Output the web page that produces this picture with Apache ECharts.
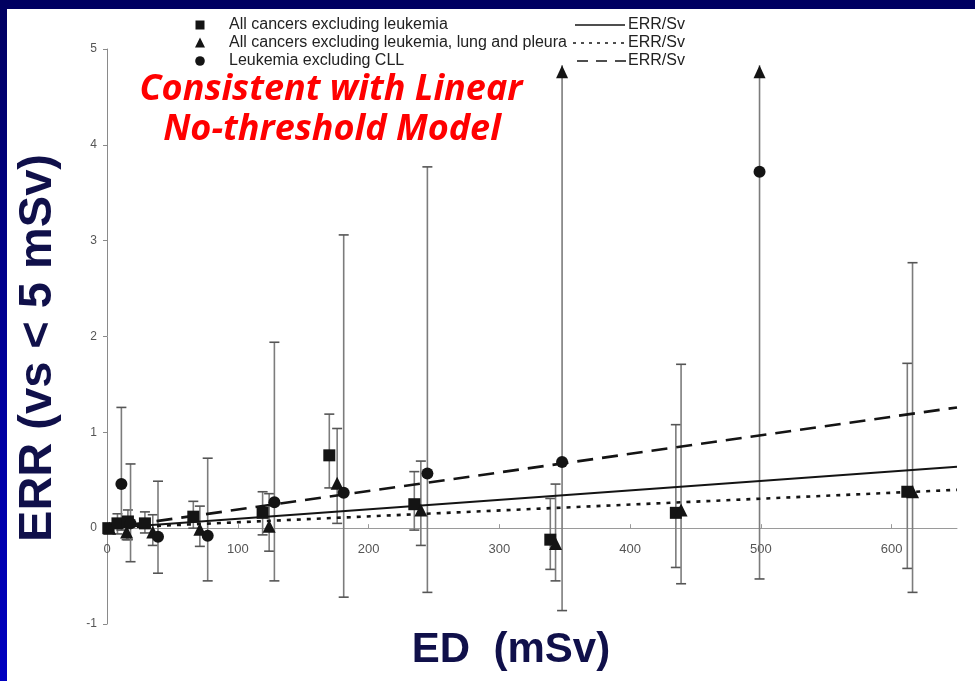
<!DOCTYPE html>
<html>
<head>
<meta charset="utf-8">
<script src="https://cdn.jsdelivr.net/npm/echarts@6/dist/echarts.min.js"></script>
<style>
  html, body { margin: 0; padding: 0; }
  body { width: 975px; height: 681px; position: relative; overflow: hidden;
         background: linear-gradient(to bottom, #000060 0%, #0000a0 60%, #0000c0 100%); }
  #paper { position: absolute; left: 7px; top: 9px; width: 968px; height: 672px; background: #ffffff; }
  #chart { position: absolute; left: 0; top: 0; width: 975px; height: 681px; }
</style>
</head>
<body>
<div id="paper"></div>
<div id="chart"></div>
<script>
// ---- data: [ED (mSv), ERR, lower CI, upper CI] ----
const squares = [          // All cancers excluding leukemia
  [1, 0.00, -0.01, 0.01],
  [8, 0.05, -0.06, 0.15],
  [16, 0.07, -0.12, 0.19],
  [29, 0.05, -0.05, 0.17],
  [66, 0.12, 0.00, 0.28],
  [119, 0.16, -0.07, 0.38],
  [170, 0.76, 0.42, 1.19],
  [235, 0.25, -0.02, 0.59],
  [339, -0.12, -0.43, 0.31],
  [435, 0.16, -0.41, 1.08],
  [612, 0.38, -0.42, 1.72]
];
const triangles = [        // All cancers excluding leukemia, lung and pleura
  [2, 0.00, -0.02, 0.02],
  [15, -0.04, -0.12, 0.03],
  [35, -0.04, -0.18, 0.14],
  [71, -0.01, -0.19, 0.23],
  [124, 0.02, -0.24, 0.36],
  [176, 0.47, 0.05, 1.04],
  [240, 0.19, -0.18, 0.70],
  [343, -0.16, -0.55, 0.46],
  [439, 0.19, -0.58, 1.71],
  [616, 0.38, -0.67, 2.77]
];
const circles = [          // Leukemia excluding CLL
  [11, 0.46, -0.02, 1.26],
  [18, 0.05, -0.35, 0.67],
  [39, -0.09, -0.47, 0.49],
  [77, -0.08, -0.55, 0.73],
  [128, 0.27, -0.55, 1.94],
  [181, 0.37, -0.72, 3.06],
  [245, 0.57, -0.67, 3.77],
  [348, 0.69, -0.86, 4.83],
  [499, 3.72, -0.53, 4.83]
];
const circlesOpenUpper = [348, 499];   // upper CI runs off the chart (arrow)

// fitted ERR/Sv lines through the origin
const fitX = [0, 650];
const fitAllCancers = [0, 0.64];
const fitNoLung = [0, 0.40];
const fitLeukemia = [0, 1.26];

const legendLabels = ['All cancers excluding leukemia',
                      'All cancers excluding leukemia, lung and pleura',
                      'Leukemia excluding CLL'];
const fitLabel = 'ERR/Sv';

// ---- chart ----
const chart = echarts.init(document.getElementById('chart'), null, { renderer: 'canvas' });
const INK = '#141414';
const BAR = '#7c7c7c';

// grid geometry (y from -1 to 5); x-axis drawn at ERR = 0
const GRID_TOP = 49, GRID_BOTTOM = 57, CHART_H = 681;
const Y_MIN = -1, Y_MAX = 5;
const plotH = CHART_H - GRID_TOP - GRID_BOTTOM;
const zeroOffset = -plotH * (0 - Y_MIN) / (Y_MAX - Y_MIN);

function errorBarSeries(name, data, arrows) {
  return {
    name: name + ' CI',
    type: 'custom',
    z: 3,
    silent: true,
    data: data.map(d => [d[0], d[2], d[3]]),
    encode: { x: 0, y: [1, 2] },
    renderItem: function (params, api) {
      const x = api.value(0);
      const lo = api.coord([x, api.value(1)]);
      const hi = api.coord([x, api.value(2)]);
      const w = 5;
      const children = [
        { type: 'line', shape: { x1: lo[0], y1: lo[1], x2: hi[0], y2: hi[1] },
          style: { stroke: BAR, lineWidth: 1.6 } },
        { type: 'line', shape: { x1: lo[0] - w, y1: lo[1], x2: lo[0] + w, y2: lo[1] },
          style: { stroke: '#555', lineWidth: 1.6 } }
      ];
      if (arrows && arrows.indexOf(x) >= 0) {
        children.push({ type: 'polygon',
          shape: { points: [[hi[0], hi[1]], [hi[0] - 6, hi[1] + 13], [hi[0] + 6, hi[1] + 13]] },
          style: { fill: INK } });
      } else {
        children.push({ type: 'line', shape: { x1: hi[0] - w, y1: hi[1], x2: hi[0] + w, y2: hi[1] },
          style: { stroke: '#555', lineWidth: 1.6 } });
      }
      return { type: 'group', children: children };
    }
  };
}

function markerSeries(name, data, symbol, size) {
  return {
    name: name, type: 'scatter', z: 5, symbol: symbol, symbolSize: size,
    itemStyle: { color: INK, opacity: 1 },
    data: data.map(d => [d[0], d[1]])
  };
}

function fitSeries(name, ys, dash, width) {
  return {
    name: name, type: 'line', z: 4, symbol: 'none', silent: true,
    lineStyle: { color: INK, width: width, type: dash },
    data: fitX.map((x, i) => [x, ys[i]])
  };
}

const legendFont = '16px "Liberation Sans", Arial, sans-serif';
const graphics = [];
const rowsY = [25, 43, 61];
graphics.push({ type: 'rect', shape: { x: 195.5, y: rowsY[0] - 4.5, width: 9, height: 9 }, style: { fill: INK } });
graphics.push({ type: 'polygon', shape: { points: [[200, rowsY[1] - 5.5], [195, rowsY[1] + 4.5], [205, rowsY[1] + 4.5]] }, style: { fill: INK } });
graphics.push({ type: 'circle', shape: { cx: 200, cy: rowsY[2], r: 4.8 }, style: { fill: INK } });
legendLabels.forEach((t, i) => {
  graphics.push({ type: 'text', x: 229, y: rowsY[i],
    style: { text: t, font: legendFont, fill: '#222', textAlign: 'left', textVerticalAlign: 'middle' } });
  graphics.push({ type: 'text', x: 628, y: rowsY[i],
    style: { text: fitLabel, font: legendFont, fill: '#222', textAlign: 'left', textVerticalAlign: 'middle' } });
});
graphics.push({ type: 'line', shape: { x1: 575, y1: rowsY[0], x2: 625, y2: rowsY[0] }, style: { stroke: INK, lineWidth: 1.6 } });
graphics.push({ type: 'line', shape: { x1: 573, y1: rowsY[1], x2: 627, y2: rowsY[1] }, style: { stroke: INK, lineWidth: 1.6, lineDash: [3, 5] } });
graphics.push({ type: 'line', shape: { x1: 577, y1: rowsY[2], x2: 626, y2: rowsY[2] }, style: { stroke: INK, lineWidth: 1.6, lineDash: [11, 8] } });

// annotation
const noteFont = 'italic bold 36px "Open Sans", "Noto Sans", sans-serif';
graphics.push({ type: 'text', x: 331, y: 90,
  style: { text: 'Consistent with Linear', font: noteFont, fill: '#ff0000', textAlign: 'center', textVerticalAlign: 'middle' } });
graphics.push({ type: 'text', x: 332, y: 130,
  style: { text: 'No-threshold Model', font: noteFont, fill: '#ff0000', textAlign: 'center', textVerticalAlign: 'middle' } });

// axis titles
graphics.push({ type: 'text', x: 38, y: 348, rotation: Math.PI / 2,
  style: { text: 'ERR (vs < 5 mSv)', font: 'bold 47px "Liberation Sans", Arial, sans-serif', fill: '#10104a', textAlign: 'center', textVerticalAlign: 'middle' } });
graphics.push({ type: 'text', x: 511, y: 650,
  style: { text: 'ED  (mSv)', font: 'bold 42px "Liberation Sans", Arial, sans-serif', fill: '#10104a', textAlign: 'center', textVerticalAlign: 'middle' } });

chart.setOption({
  animation: false,
  backgroundColor: 'transparent',
  grid: { left: 107, top: GRID_TOP, right: 18, bottom: GRID_BOTTOM, containLabel: false },
  xAxis: {
    type: 'value', min: 0, max: 650, interval: 100,
    position: 'bottom', offset: zeroOffset,
    axisLine: { onZero: false, lineStyle: { color: '#9a9a9a', width: 1 } },
    axisTick: { inside: true, length: 4, lineStyle: { color: '#9a9a9a' } },
    axisLabel: { color: '#555', fontSize: 13, margin: 15, showMaxLabel: false,
                 fontFamily: '"Liberation Sans", Arial, sans-serif' },
    splitLine: { show: false }
  },
  yAxis: {
    type: 'value', min: Y_MIN, max: Y_MAX, interval: 1,
    axisLine: { onZero: false, lineStyle: { color: '#8a8a8a', width: 1 } },
    axisTick: { inside: false, length: 4, lineStyle: { color: '#8a8a8a' } },
    axisLabel: { color: '#555', fontSize: 12, margin: 10,
                 fontFamily: '"Liberation Sans", Arial, sans-serif' },
    splitLine: { show: false }
  },
  graphic: graphics,
  series: [
    errorBarSeries(legendLabels[0], squares, null),
    errorBarSeries(legendLabels[1], triangles, null),
    errorBarSeries(legendLabels[2], circles, circlesOpenUpper),
    fitSeries('ERR/Sv all cancers', fitAllCancers, 'solid', 2),
    fitSeries('ERR/Sv excl. lung and pleura', fitNoLung, [4, 6], 2.6),
    fitSeries('ERR/Sv leukemia', fitLeukemia, [16, 9], 2.6),
    markerSeries(legendLabels[0], squares, 'rect', 12),
    markerSeries(legendLabels[1], triangles, 'triangle', 13),
    markerSeries(legendLabels[2], circles, 'circle', 12)
  ]
});
</script>
</body>
</html>
